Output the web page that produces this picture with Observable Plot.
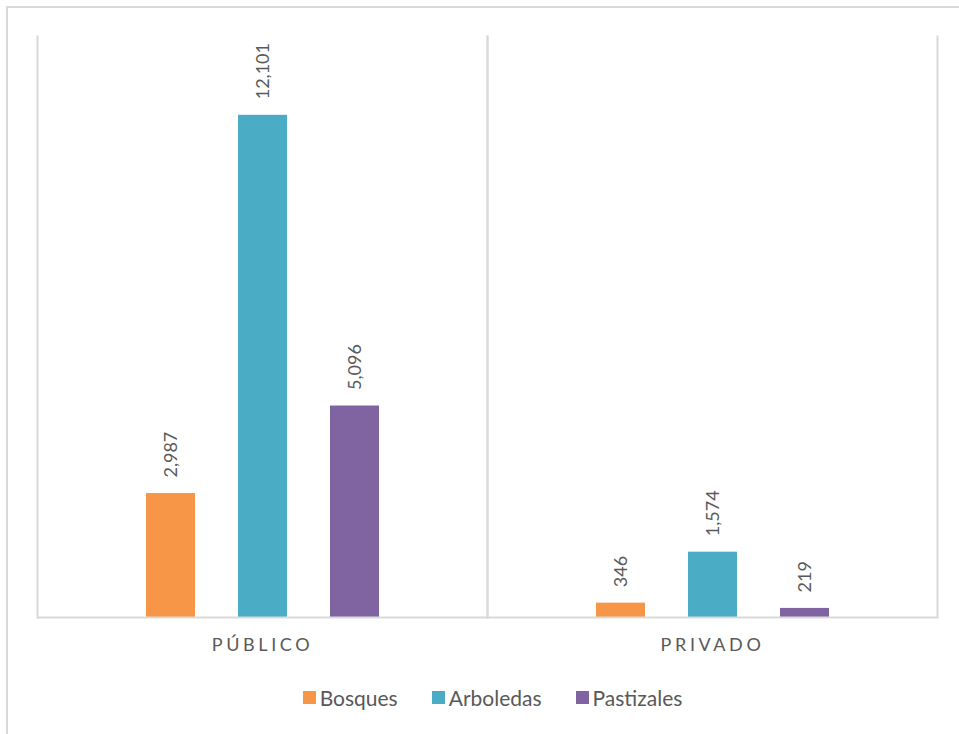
<!DOCTYPE html>
<html>
<head>
<meta charset="utf-8">
<script src="https://cdn.jsdelivr.net/npm/d3@7"></script>
<script src="https://cdn.jsdelivr.net/npm/@observablehq/plot@0.6"></script>
<style>
  html, body { margin: 0; padding: 0; background: #fff; }
  #wrap { position: relative; width: 959px; height: 734px; overflow: hidden; font-family: Lato, "Open Sans", sans-serif; }
  #border { position: absolute; left: 6px; top: 6px; width: 1200px; height: 1200px; border-left: 2px solid #d9d9d9; border-top: 2px solid #d9d9d9; }
  #chart { position: absolute; left: 0; top: 0; }
  #chart svg { font-family: Lato, "Open Sans", sans-serif; }
  g[aria-label="fx-axis tick label"] text { letter-spacing: 3.6px; }
  #legend { position: absolute; left: 0; top: 685px; width: 959px; display: flex; justify-content: center; padding-left: 26px; box-sizing: border-box; font-size: 21px; color: #595959; }
  .item { display: flex; align-items: center; margin: 0 17px; }
  .sw { width: 13px; height: 13px; margin-right: 4px; }
</style>
</head>
<body>
<div id="wrap">
  <div id="border"></div>
  <div id="chart"></div>
  <div id="legend"></div>
</div>
<script>
const sectors = ["PÚBLICO", "PRIVADO"];
const types = ["Bosques", "Arboledas", "Pastizales"];
const colors = ["#F79646", "#4BACC6", "#8064A2"];
const publico = [2987, 12101, 5096];
const privado = [346, 1574, 219];

const data = [];
types.forEach((t, i) => {
  data.push({sector: sectors[0], type: t, value: publico[i]});
  data.push({sector: sectors[1], type: t, value: privado[i]});
});

const grid = "#d9d9d9";
const chart = Plot.plot({
  width: 959,
  height: 660,
  marginLeft: 36,
  marginRight: 22,
  marginTop: 36,
  marginBottom: 43,
  fx: {domain: sectors, padding: 0, label: null, tickSize: 0, tickPadding: 21, fontSize: 18},
  x: {domain: types, paddingInner: 0.47, paddingOuter: 1.157, axis: null},
  y: {domain: [0, 14000], axis: null},
  color: {domain: types, range: colors},
  style: {color: "#595959", fontSize: "18px"},
  marks: [
    Plot.barY(data, {fx: "sector", x: "type", y: "value", fill: "type"}),
    Plot.frame({anchor: "left", stroke: grid, strokeWidth: 2, strokeOpacity: 1}),
    Plot.frame({anchor: "right", stroke: grid, strokeWidth: 2, strokeOpacity: 1}),
    Plot.ruleY([0], {stroke: grid, strokeWidth: 2}),
    Plot.text(data, {
      fx: "sector", x: "type", y: "value",
      text: d => d3.format(",")(d.value),
      rotate: -90, textAnchor: "start", dy: -16,
      fill: "#595959", fontSize: 18
    })
  ]
});
document.getElementById("chart").appendChild(chart);

const legend = document.getElementById("legend");
types.forEach((t, i) => {
  const item = document.createElement("div");
  item.className = "item";
  const sw = document.createElement("div");
  sw.className = "sw";
  sw.style.background = colors[i];
  const lab = document.createElement("span");
  lab.textContent = t;
  item.appendChild(sw);
  item.appendChild(lab);
  legend.appendChild(item);
});
</script>
</body>
</html>
